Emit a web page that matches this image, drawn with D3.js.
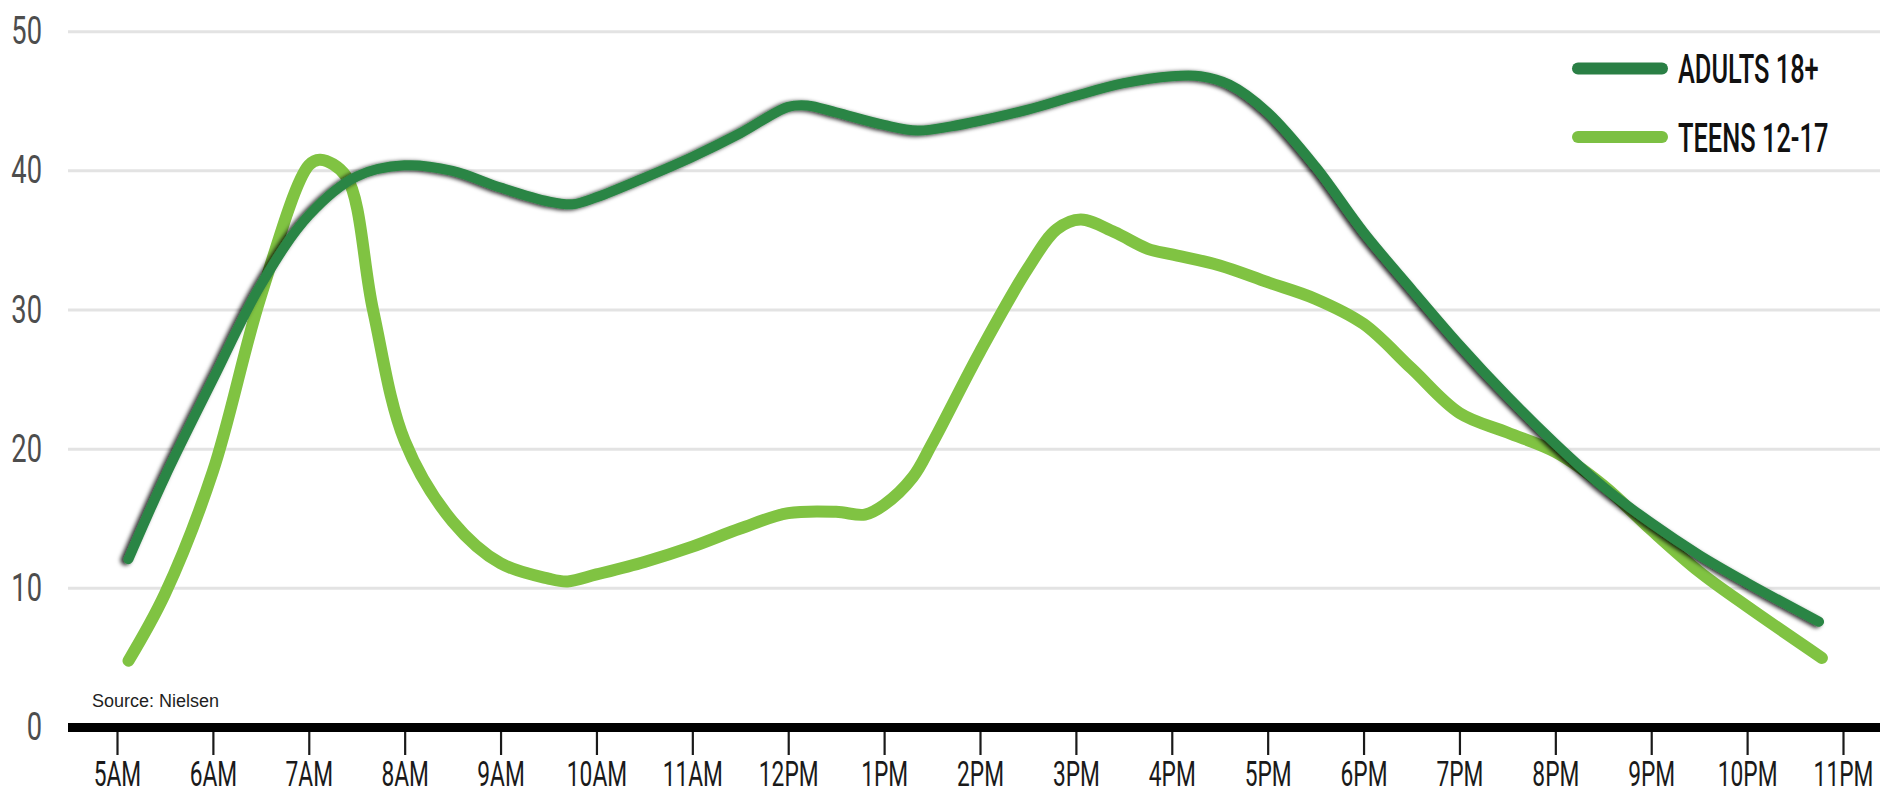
<!DOCTYPE html>
<html>
<head>
<meta charset="utf-8">
<script src="https://cdn.jsdelivr.net/npm/d3@7"></script>
<style>
  html, body { margin: 0; padding: 0; background: #ffffff; }
  svg { display: block; }
</style>
</head>
<body>
<svg id="chart" width="1890" height="796"></svg>
<script>
// Hourly tick positions and their labels
const tickHours = [5, 6, 7, 8, 9, 10, 11, 12, 13, 14, 15, 16, 17, 18, 19, 20, 21, 22, 23];
const tickLabels = ["5AM", "6AM", "7AM", "8AM", "9AM", "10AM", "11AM", "12PM", "1PM", "2PM",
                    "3PM", "4PM", "5PM", "6PM", "7PM", "8PM", "9PM", "10PM", "11PM"];
const yTicks = [0, 10, 20, 30, 40, 50];

// Series: [hour of day, value]
const adults = [
  [5.12, 12.1], [5.5, 18.0], [6, 25.0], [6.5, 31.8], [7, 36.8], [7.5, 39.6], [8, 40.4],
  [8.5, 40.0], [9, 38.8], [9.5, 37.8], [9.75, 37.6], [10, 38.1], [10.5, 39.5], [11, 41.0],
  [11.5, 42.7], [12, 44.6], [12.2, 44.7], [12.5, 44.2], [13, 43.3], [13.35, 42.9],
  [13.7, 43.2], [14, 43.6], [14.5, 44.4], [15, 45.4], [15.5, 46.3], [16, 46.8], [16.3, 46.8],
  [16.6, 46.2], [17, 44.2], [17.5, 40.3], [18, 35.6], [18.5, 31.5], [19, 27.5], [19.5, 23.8],
  [20, 20.4], [20.5, 17.3], [21, 14.7], [21.5, 12.4], [22, 10.4], [22.75, 7.6]
];
const teens = [
  [5.12, 4.8], [5.5, 9.6], [6, 18.4], [6.5, 31.0], [7, 40.4], [7.12, 40.8], [7.39, 39.6],
  [7.67, 30.0], [8, 20.6], [8.5, 14.8], [9, 11.8], [9.5, 10.7], [9.7, 10.5], [10, 11.0],
  [10.5, 11.9], [11, 13.0], [11.5, 14.3], [12, 15.4], [12.5, 15.5], [12.8, 15.3], [13, 16.0],
  [13.3, 18.0], [13.5, 20.4], [14, 27.0], [14.5, 33.0], [14.8, 35.8], [15.05, 36.5],
  [15.4, 35.6], [15.75, 34.4], [16, 34.0], [16.5, 33.2], [17, 32.0], [17.5, 30.8],
  [18, 29.0], [18.5, 25.8], [19, 22.6], [19.5, 21.2], [20, 19.8], [20.5, 17.4], [21, 14.2],
  [21.5, 11.2], [22, 8.7], [22.78, 5.0]
];

const seriesNames = ["ADULTS 18+", "TEENS 12-17"];
const seriesColors = ["#2b8545", "#80c342"];
const legendColors = ["#2a7f45", "#7cc043"];
const sourceNote = "Source: Nielsen";

// Layout
const plotLeft = 68, plotRight = 1880;
const svg = d3.select("#chart");

const x = d3.scaleLinear().domain([5, 23]).range([117, 1843]);
const y = d3.scaleLinear().domain([0, 50]).range([727.5, 31.7]);

const condensedFont = "Roboto, 'DejaVu Sans', sans-serif";

// Shadow under the adults line
const defs = svg.append("defs");
const shadow = defs.append("filter").attr("id", "lineShadow")
  .attr("x", "-5%").attr("y", "-10%").attr("width", "110%").attr("height", "120%");
shadow.append("feDropShadow")
  .attr("dx", -3).attr("dy", 1)
  .attr("stdDeviation", 2)
  .attr("flood-color", "#000")
  .attr("flood-opacity", 0.85);

// Horizontal gridlines
svg.append("g").selectAll("line")
  .data(yTicks.filter(d => d > 0))
  .join("line")
  .attr("x1", plotLeft).attr("x2", plotRight)
  .attr("y1", d => y(d)).attr("y2", d => y(d))
  .attr("stroke", "#e3e3e3")
  .attr("stroke-width", 3);

// Y axis labels
const yAxis = svg.append("g")
  .attr("transform", "translate(42,-2)")
  .call(d3.axisLeft(y).tickValues(yTicks).tickSize(0).tickPadding(0));
yAxis.select(".domain").remove();
yAxis.selectAll("text")
  .attr("x", 0)
  .attr("dy", "0.36em")
  .attr("transform", "scale(0.7,1)")
  .attr("fill", "#4d4d4d")
  .attr("font-family", condensedFont)
  .attr("font-weight", 400)
  .attr("font-size", 39);

// X axis ticks and labels
const xAxis = svg.append("g")
  .attr("transform", `translate(0,${y(0)})`)
  .call(d3.axisBottom(x)
    .tickValues(tickHours)
    .tickFormat((d, i) => tickLabels[i])
    .tickSize(27.5)
    .tickSizeOuter(0));
xAxis.select(".domain").remove();
xAxis.selectAll(".tick line")
  .attr("stroke", "#1a1a1a")
  .attr("stroke-width", 2.2);
xAxis.selectAll("text")
  .attr("y", 58.5)
  .attr("dy", 0)
  .attr("transform", "scale(0.65,1)")
  .attr("fill", "#1a1a1a")
  .attr("font-family", condensedFont)
  .attr("font-weight", 400)
  .attr("font-size", 35);

// Baseline
svg.append("line")
  .attr("x1", plotLeft).attr("x2", plotRight)
  .attr("y1", y(0)).attr("y2", y(0))
  .attr("stroke", "#000")
  .attr("stroke-width", 9);

// Source note
svg.append("text")
  .attr("x", 92).attr("y", 707)
  .attr("font-family", "'Liberation Sans', Arial, sans-serif")
  .attr("font-size", 18)
  .attr("fill", "#1e1e1e")
  .text(sourceNote);

// Lines
const line = d3.line()
  .x(d => x(d[0]))
  .y(d => y(d[1]))
  .curve(d3.curveCatmullRom.alpha(0.5));

svg.append("path")
  .datum(teens)
  .attr("d", line)
  .attr("fill", "none")
  .attr("stroke", seriesColors[1])
  .attr("stroke-width", 12)
  .attr("stroke-linecap", "round")
  .attr("stroke-linejoin", "round");

svg.append("path")
  .datum(adults)
  .attr("d", line)
  .attr("fill", "none")
  .attr("stroke", seriesColors[0])
  .attr("stroke-width", 10)
  .attr("stroke-linecap", "round")
  .attr("stroke-linejoin", "round")
  .attr("filter", "url(#lineShadow)");

// Legend
const legendRows = svg.append("g").selectAll("g")
  .data(seriesNames)
  .join("g")
  .attr("transform", (d, i) => `translate(1578,${68.5 + i * 68.5})`);
legendRows.append("line")
  .attr("x1", 0).attr("x2", 84)
  .attr("y1", 0).attr("y2", 0)
  .attr("stroke", (d, i) => legendColors[i])
  .attr("stroke-width", 12)
  .attr("stroke-linecap", "round");
legendRows.append("text")
  .attr("transform", "translate(100,14.5) scale(0.62,1)")
  .attr("font-family", condensedFont)
  .attr("font-weight", 500)
  .attr("font-size", 41)
  .attr("fill", "#111")
  .text(d => d);
</script>
</body>
</html>
